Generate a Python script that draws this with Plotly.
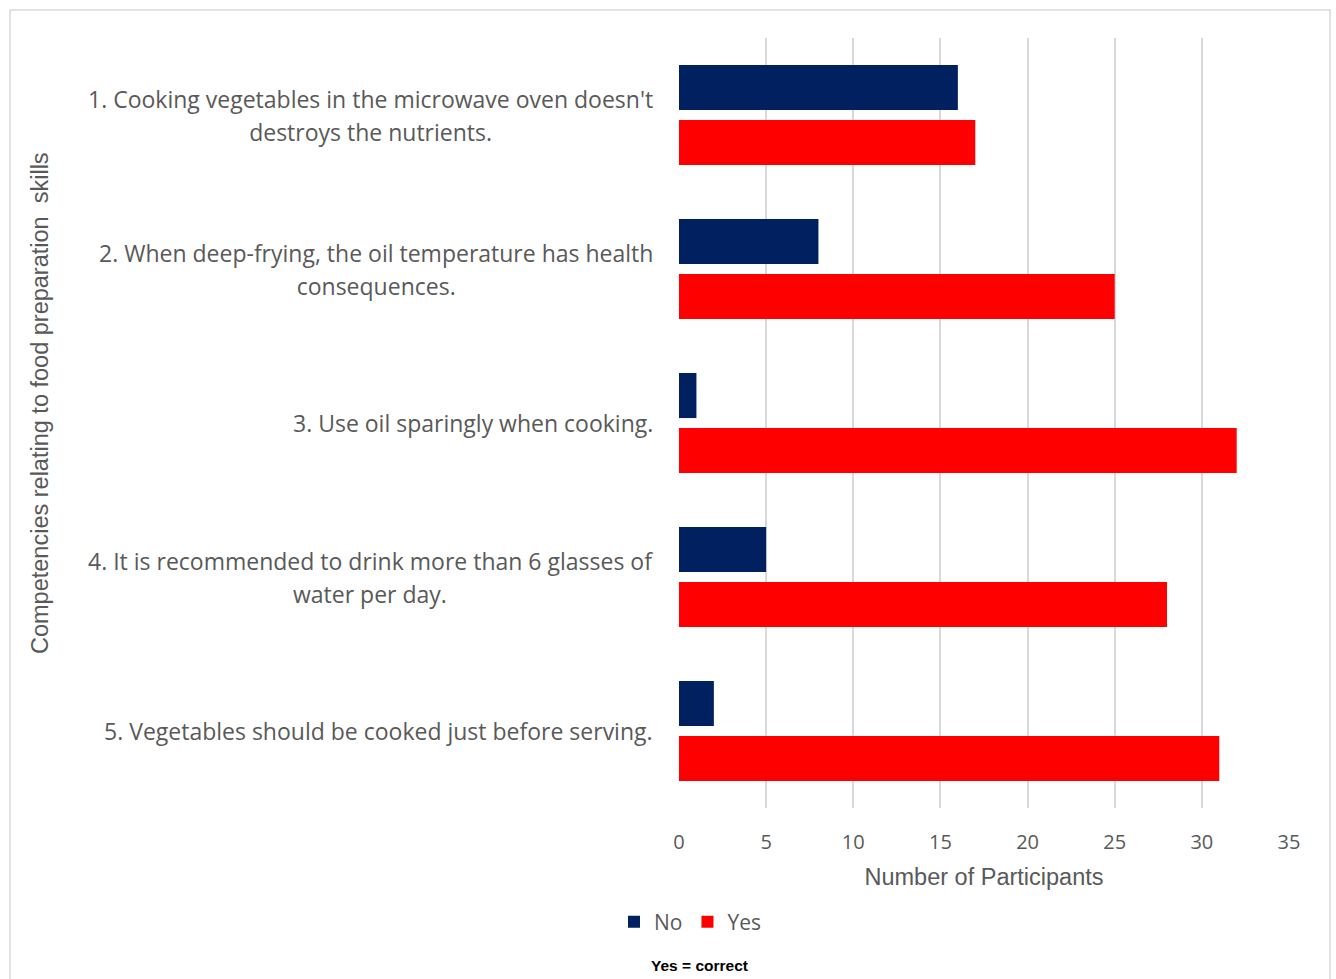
import plotly.graph_objects as go

categories = [
    "1. Cooking vegetables in the microwave oven doesn't<br>destroys the nutrients.",
    "2. When deep-frying, the oil temperature has health<br>consequences.",
    "3. Use oil sparingly when cooking.",
    "4. It is recommended to drink more than 6 glasses of<br>water per day.",
    "5. Vegetables should be cooked just before serving.",
]
no_values = [16, 8, 1, 5, 2]
yes_values = [17, 25, 32, 28, 31]
x_ticks = [0, 5, 10, 15, 20, 25, 30, 35]

W, H = 1336, 979
L, R, T, B = 679, 1289, 38, 808

ypos = list(range(len(categories)))

fig = go.Figure()
fig.add_trace(go.Bar(y=ypos, x=no_values, orientation="h", name="No",
                     marker=dict(color="#002060", line=dict(width=0))))
fig.add_trace(go.Bar(y=ypos, x=yes_values, orientation="h", name="Yes",
                     marker=dict(color="#FF0000", line=dict(width=0))))

def px_x(p):
    return (p - L) / (R - L)

def px_y(p):
    return (B - p) / (B - T)

annotations = []
for i, c in enumerate(categories):
    lines = c.split("<br>")
    txt = "<br>".join(f"<span style='font-size:23px'>{ln}</span>" for ln in lines)
    annotations.append(dict(
        x=px_x(655), xref="paper", y=i, yref="y", text=txt,
        xanchor="right", yanchor="middle", align="center", showarrow=False,
        font=dict(family="Open Sans", size=25, color="#595959"),
    ))

annotations.append(dict(
    x=px_x(40), xref="paper", y=px_y(403), yref="paper",
    text="Competencies relating to food preparation  skills", textangle=-90,
    showarrow=False, xanchor="center", yanchor="middle",
    font=dict(family="Liberation Sans", size=23.5, color="#595959"),
))
annotations.append(dict(
    x=px_x(699), xref="paper", y=px_y(965), yref="paper",
    text="<b>Yes = correct</b>", showarrow=False, xanchor="center", yanchor="middle",
    font=dict(family="Liberation Sans", size=15.5, color="#000000"),
))

fig.update_layout(
    width=W, height=H,
    margin=dict(l=L, r=W - R, t=T, b=H - B, pad=0),
    paper_bgcolor="white", plot_bgcolor="white",
    barmode="group", bargap=0.286, bargroupgap=0.18,
    showlegend=True,
    legend=dict(orientation="h", xref="container", yref="container",
                x=690 / W, y=1 - 922 / H, xanchor="center", yanchor="middle",
                font=dict(family="Open Sans", size=21, color="#595959"),
                itemwidth=30, traceorder="normal"),
    xaxis=dict(range=[0, 35], tickvals=x_ticks, showgrid=True,
               gridcolor="#d9d9d9", gridwidth=1.5, zeroline=False,
               showline=False, ticks="", ticklabelstandoff=20,
               tickfont=dict(family="Open Sans", size=20, color="#595959"),
               title=dict(text="Number of Participants", standoff=14,
                          font=dict(family="Liberation Sans", size=23.5, color="#595959"))),
    yaxis=dict(range=[len(categories) - 0.5, -0.5], showticklabels=False,
               showgrid=False, zeroline=False, showline=False, ticks=""),
    annotations=annotations,
    shapes=[dict(type="rect", xref="paper", yref="paper",
                 x0=px_x(10), x1=px_x(1330), y0=px_y(990), y1=px_y(10),
                 line=dict(color="#d9d9d9", width=1.5), fillcolor="rgba(0,0,0,0)",
                 layer="below")],
)

fig.write_html("out.html")
